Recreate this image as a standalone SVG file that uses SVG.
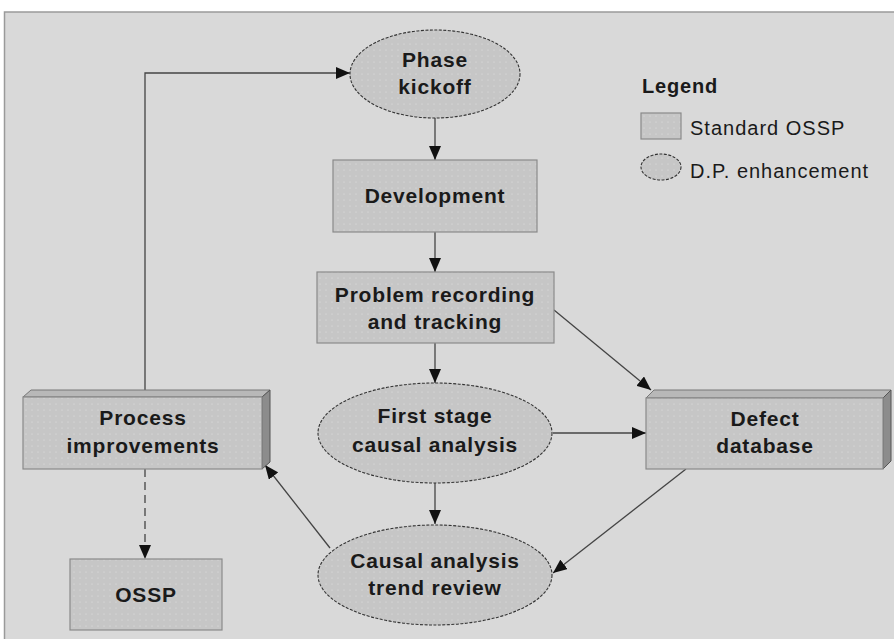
<svg xmlns="http://www.w3.org/2000/svg" width="894" height="639" viewBox="0 0 894 639">
<defs>
<pattern id="dots" width="6" height="6" patternUnits="userSpaceOnUse">
<rect width="6" height="6" fill="#c6c6c6"/>
<circle cx="2" cy="2" r="0.6" fill="#e2e2e2"/>
</pattern>
<marker id="arr" viewBox="0 0 14 12" markerWidth="14" markerHeight="12" refX="14" refY="6" orient="auto" markerUnits="userSpaceOnUse">
<path d="M0,0 L14,6 L0,12 z" fill="#111"/>
</marker>
</defs>
<style>
.box{fill:url(#dots);stroke:#8a8a8a;stroke-width:1.2}
.ell{fill:url(#dots);stroke:#333;stroke-width:1.1;stroke-dasharray:3 1.5}
.top{fill:#b8b8b8;stroke:#777;stroke-width:1}
.side{fill:#8c8c8c;stroke:#555;stroke-width:1}
.t{font-family:"Liberation Sans",Arial,sans-serif;font-size:21px;font-weight:bold;fill:#1a1a1a;text-anchor:middle;letter-spacing:0.8px}
.lg{font-family:"Liberation Sans",Arial,sans-serif;font-size:20px;fill:#1a1a1a;letter-spacing:1px}
.c{fill:none;stroke:#444;stroke-width:1.3}
</style>
<rect x="0" y="0" width="894" height="639" fill="#ffffff"/>
<rect x="4.5" y="12" width="900" height="640" fill="#d9d9d9" stroke="#9a9a9a" stroke-width="1.5"/>

<g id="connectors">
<line class="c" x1="435" y1="118" x2="435" y2="160" marker-end="url(#arr)"/>
<line class="c" x1="435" y1="232" x2="435" y2="272" marker-end="url(#arr)"/>
<line class="c" x1="435" y1="343" x2="435" y2="383" marker-end="url(#arr)"/>
<line class="c" x1="435" y1="483" x2="435" y2="524" marker-end="url(#arr)"/>
<line class="c" x1="554" y1="310" x2="651" y2="390" marker-end="url(#arr)"/>
<line class="c" x1="553" y1="433" x2="646" y2="433" marker-end="url(#arr)"/>
<line class="c" x1="686" y1="469" x2="553" y2="573" marker-end="url(#arr)"/>
<line class="c" x1="330" y1="548" x2="265" y2="465" marker-end="url(#arr)"/>
<polyline class="c" points="145,390 145,73 350,73" stroke="#777" marker-end="url(#arr)"/>
<line class="c" x1="145" y1="469" x2="145" y2="559" stroke="#777" stroke-dasharray="8 5" marker-end="url(#arr)"/>
</g>

<g id="phase-kickoff">
<ellipse class="ell" cx="435" cy="74" rx="85" ry="44"/>
<text class="t" x="435" y="67">Phase</text>
<text class="t" x="435" y="94">kickoff</text>
</g>

<g id="development">
<rect class="box" x="333" y="160" width="204" height="72"/>
<text class="t" x="435" y="203">Development</text>
</g>

<g id="problem-recording">
<rect class="box" x="317" y="272" width="237" height="71"/>
<text class="t" x="435" y="302">Problem recording</text>
<text class="t" x="435" y="329">and tracking</text>
</g>

<g id="first-stage">
<ellipse class="ell" cx="435" cy="433" rx="117" ry="50"/>
<text class="t" x="435" y="423">First stage</text>
<text class="t" x="435" y="452">causal analysis</text>
</g>

<g id="trend-review">
<ellipse class="ell" cx="435" cy="575" rx="117" ry="50"/>
<text class="t" x="435" y="568">Causal analysis</text>
<text class="t" x="435" y="595">trend review</text>
</g>

<g id="process-improvements">
<polygon class="top" points="23,397 31,390 270,390 262,397"/>
<polygon class="side" points="262,397 270,390 270,462 262,469"/>
<rect class="box" x="23" y="397" width="239" height="72"/>
<text class="t" x="143" y="425">Process</text>
<text class="t" x="143" y="453">improvements</text>
</g>

<g id="ossp">
<rect class="box" x="70" y="559" width="152" height="71"/>
<text class="t" x="146" y="602">OSSP</text>
</g>

<g id="defect-database">
<polygon class="top" points="646,398 654,390 891,390 883,398"/>
<polygon class="side" points="883,398 891,390 891,461 883,469"/>
<rect class="box" x="646" y="398" width="237" height="71"/>
<text class="t" x="765" y="426">Defect</text>
<text class="t" x="765" y="453">database</text>
</g>

<g id="legend">
<text class="lg" x="642" y="93" font-weight="bold" style="letter-spacing:0.8px">Legend</text>
<rect class="box" x="641" y="113" width="40" height="26" stroke="#333"/>
<text class="lg" x="690" y="135">Standard OSSP</text>
<ellipse class="ell" cx="661" cy="167" rx="20" ry="13"/>
<text class="lg" x="690" y="178">D.P. enhancement</text>
</g>
</svg>
